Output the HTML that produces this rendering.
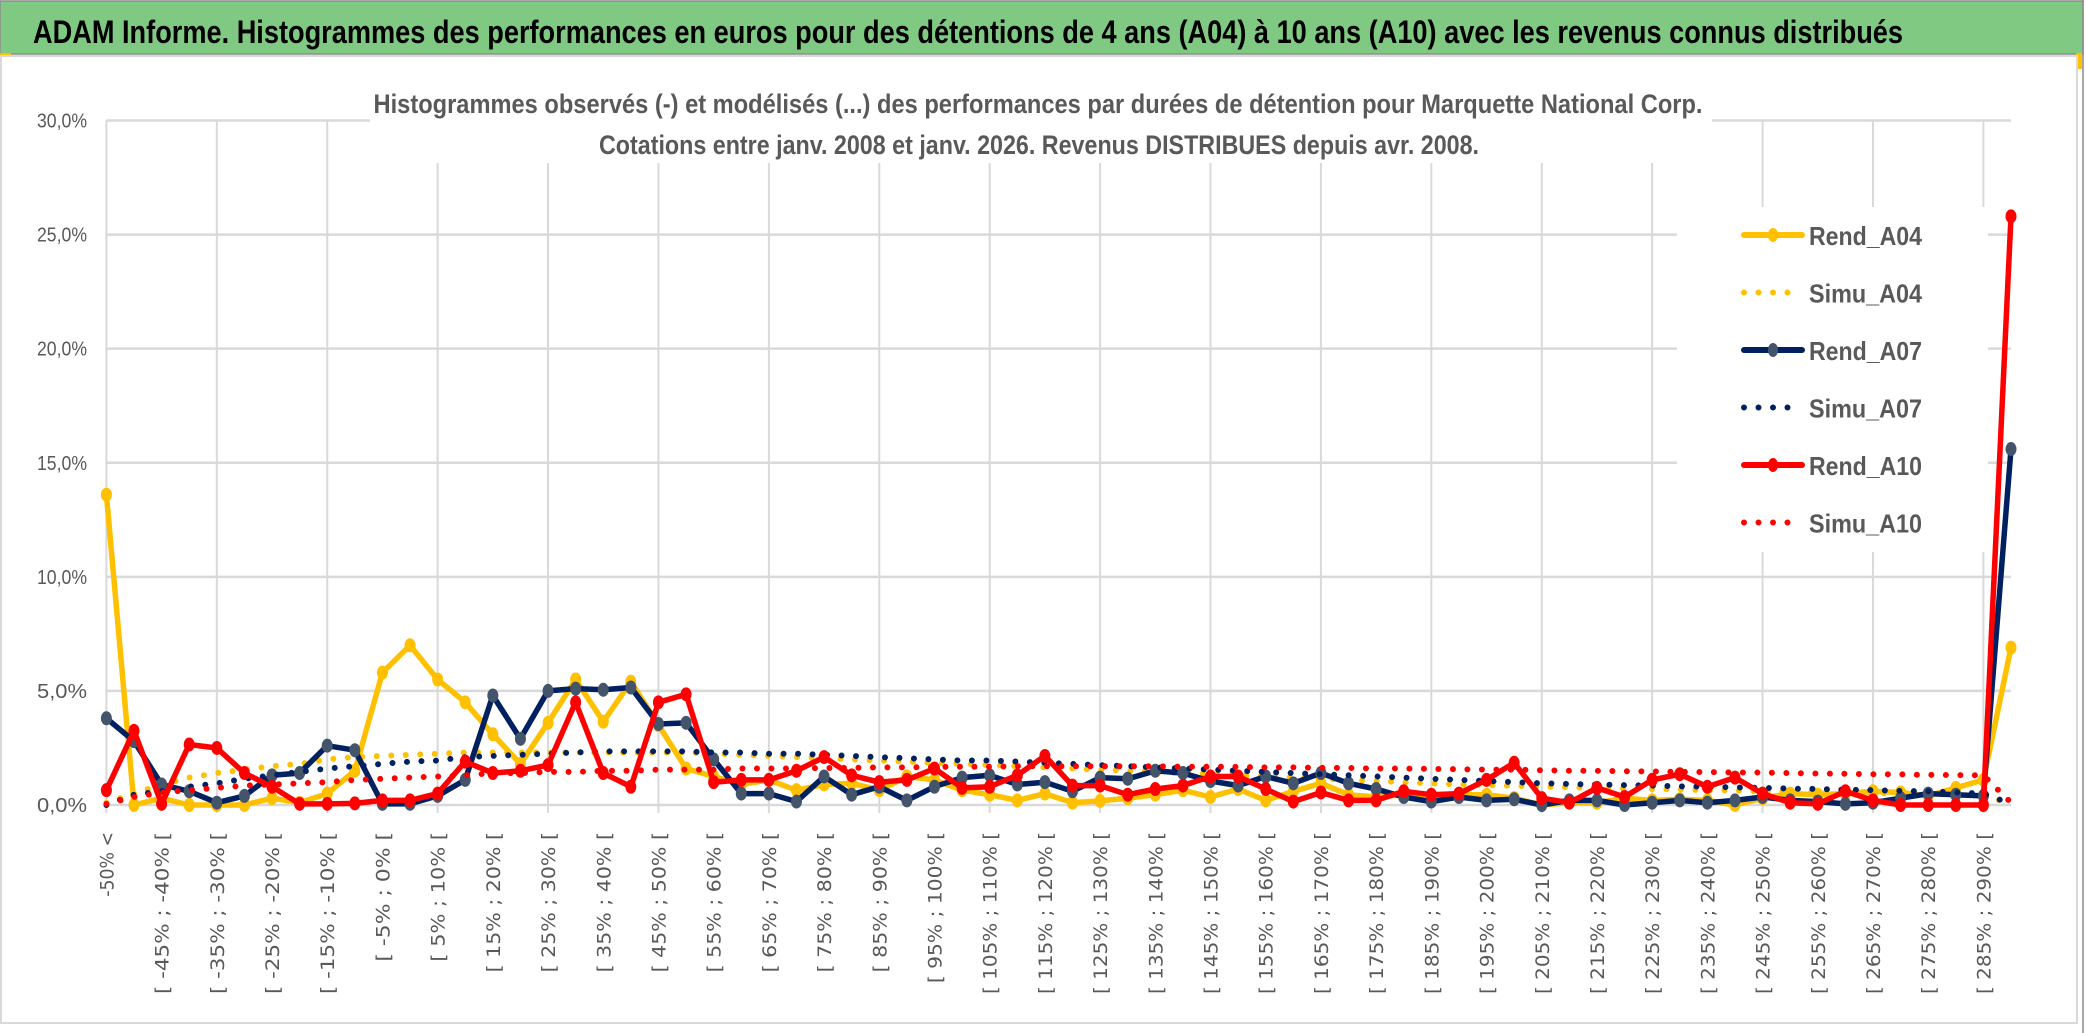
<!DOCTYPE html>
<html><head><meta charset="utf-8"><style>
html,body{margin:0;padding:0;background:#fff;}
svg{display:block;font-family:"Liberation Sans",sans-serif;}
</style></head><body>
<svg id="chart" width="2086" height="1033" viewBox="0 0 2086 1033" xmlns="http://www.w3.org/2000/svg">
<rect x="0" y="0" width="2086" height="1033" fill="#fff"/>
<rect x="0" y="1" width="2083" height="53" fill="#80C982" stroke="#8c8c8c" stroke-width="1.5"/>
<text x="33" y="43" font-size="32" font-weight="bold" fill="#000" textLength="1870" lengthAdjust="spacingAndGlyphs">ADAM Informe. Histogrammes des performances en euros pour des détentions de 4 ans (A04) à 10 ans (A10) avec les revenus connus distribués</text>
<rect x="0" y="53" width="11" height="3" fill="#FFC000"/>
<rect x="2076" y="53" width="6" height="16" fill="#FFC000"/>
<rect x="1" y="56" width="2076" height="967" fill="none" stroke="#d9d9d9" stroke-width="2"/>
<line x1="2083" y1="0" x2="2083" y2="1033" stroke="#8c8c8c" stroke-width="1.5"/>
<g id="grid"></g>
<rect x="370" y="95" width="1342" height="68" fill="#fff"/>
<text x="1038" y="113" font-size="27" font-weight="bold" fill="#595959" text-anchor="middle" textLength="1329" lengthAdjust="spacingAndGlyphs">Histogrammes observés (-) et modélisés (...) des performances par durées de détention pour Marquette National Corp.</text>
<text x="1039" y="154" font-size="27" font-weight="bold" fill="#595959" text-anchor="middle" textLength="880" lengthAdjust="spacingAndGlyphs">Cotations entre janv. 2008 et janv. 2026. Revenus DISTRIBUES depuis avr. 2008.</text>
<g id="yticks"></g>
<g id="xticks"></g>
<g id="series"></g>
<g id="legend"></g>
</svg>
<script>
const categoryCount = 70;
const yTicks = [0, 5, 10, 15, 20, 25, 30];
const yTickLabels = ["0,0%", "5,0%", "10,0%", "15,0%", "20,0%", "25,0%", "30,0%"];
const rendA04 = [13.6,0,0.3,0,0,0,0.3,0.1,0.5,1.5,5.8,7.0,5.5,4.5,3.1,1.8,3.6,5.5,3.65,5.4,3.5,1.6,1.25,0.9,1.1,0.65,0.9,0.95,0.65,1.25,1.1,0.65,0.45,0.2,0.5,0.1,0.18,0.3,0.45,0.65,0.35,0.7,0.2,0.6,0.95,0.45,0.35,0.45,0.35,0.45,0.45,0.3,0,0.1,0.1,0.3,0.2,0.25,0.2,0,0.3,0.5,0.45,0.5,0.6,0.55,0.4,0.75,1.1,6.9];
const simuA04 = [0.1,0.5,0.9,1.2,1.4,1.55,1.7,1.8,2.0,2.1,2.15,2.2,2.25,2.3,2.3,2.3,2.3,2.3,2.3,2.3,2.3,2.3,2.25,2.2,2.15,2.1,2.05,2.0,1.95,1.9,1.85,1.8,1.75,1.7,1.65,1.6,1.55,1.5,1.45,1.4,1.35,1.3,1.25,1.2,1.15,1.1,1.05,1.0,0.95,0.9,0.87,0.84,0.8,0.78,0.75,0.72,0.7,0.68,0.65,0.63,0.6,0.58,0.56,0.54,0.52,0.5,0.48,0.46,0.44,0.05];
const rendA07 = [3.8,2.8,0.9,0.6,0.1,0.4,1.3,1.4,2.6,2.4,0.05,0.05,0.4,1.1,4.8,2.9,5.0,5.1,5.05,5.15,3.55,3.6,2.0,0.5,0.5,0.15,1.25,0.45,0.8,0.2,0.8,1.2,1.3,0.9,1.0,0.6,1.2,1.15,1.5,1.4,1.05,0.85,1.25,0.95,1.4,0.95,0.7,0.35,0.15,0.35,0.2,0.25,0,0.2,0.2,0,0.1,0.2,0.1,0.2,0.35,0.2,0.15,0.05,0.1,0.3,0.5,0.45,0.4,15.6];
const simuA07 = [0,0.45,0.6,0.8,0.95,1.15,1.3,1.45,1.6,1.7,1.8,1.9,1.95,2.1,2.15,2.2,2.25,2.3,2.35,2.35,2.35,2.35,2.3,2.3,2.25,2.25,2.2,2.15,2.1,2.05,2.0,1.95,1.95,1.9,1.85,1.8,1.75,1.7,1.65,1.6,1.55,1.5,1.45,1.4,1.35,1.3,1.25,1.2,1.15,1.1,1.05,1.0,0.95,0.92,0.9,0.87,0.85,0.82,0.8,0.77,0.75,0.72,0.7,0.67,0.65,0.62,0.6,0.55,0.5,0.05];
const rendA10 = [0.65,3.25,0.05,2.65,2.5,1.4,0.8,0.05,0.05,0.07,0.2,0.2,0.5,1.9,1.4,1.5,1.75,4.5,1.4,0.8,4.5,4.85,1.0,1.1,1.1,1.5,2.1,1.3,1.0,1.1,1.6,0.75,0.8,1.3,2.15,0.85,0.85,0.45,0.7,0.85,1.25,1.25,0.7,0.15,0.55,0.2,0.2,0.6,0.45,0.5,1.1,1.85,0.3,0.1,0.75,0.35,1.1,1.35,0.8,1.2,0.5,0.1,0.05,0.6,0.2,0,0,0,0,25.8];
const simuA10 = [0.05,0.35,0.55,0.65,0.75,0.85,0.9,0.95,1.0,1.1,1.15,1.2,1.25,1.3,1.4,1.4,1.45,1.45,1.5,1.5,1.55,1.55,1.55,1.6,1.6,1.6,1.62,1.63,1.65,1.65,1.67,1.68,1.68,1.7,1.7,1.7,1.7,1.7,1.7,1.68,1.68,1.67,1.65,1.65,1.63,1.62,1.6,1.6,1.58,1.57,1.55,1.55,1.52,1.5,1.5,1.48,1.47,1.45,1.44,1.43,1.42,1.4,1.38,1.37,1.35,1.34,1.32,1.31,1.3,0.1];
const legendNames = ["Rend_A04","Simu_A04","Rend_A07","Simu_A07","Rend_A10","Simu_A10"];

function categoryLabel(i){
  if(i===0) return "-50% <";
  if(i===categoryCount-1) return "> 290%";
  const a=-50+5*(i-1);
  return "[ "+a+"% ; "+(a+5)+"% [";
}
const X0=106.4, X1=2011, Y0=805, Y30=120.5;
function xScale(i){return X0+(X1-X0)*i/(categoryCount-1);}
function yScale(v){return Y0-(Y0-Y30)*v/30;}
const NS="http://www.w3.org/2000/svg";
function mk(tag,attrs,parent){const e=document.createElementNS(NS,tag);for(const k in attrs)e.setAttribute(k,attrs[k]);parent.appendChild(e);return e;}

const grid=document.getElementById('grid');
yTicks.forEach(function(t){
  const y=yScale(t);
  const l=mk('line',{x1:X0,y1:y,x2:X1,y2:y,stroke:'#d9d9d9','stroke-width':2.5},grid);
  
  
});
for(let i=0;i<categoryCount;i+=4){
  const x=xScale(i);
  const l=mk('line',{x1:x,y1:Y30,x2:x,y2:Y0+8,stroke:'#d9d9d9','stroke-width':2},grid);
  
  
}

const yt=document.getElementById('yticks');
yTicks.forEach(function(t,k){
  const tx=mk('text',{x:87,y:yScale(t)+7,'font-size':20,fill:'#595959','text-anchor':'end',textLength:50,lengthAdjust:'spacingAndGlyphs'},yt);
  tx.textContent=yTickLabels[k];
  
  
});

const xt=document.getElementById('xticks');
for(let i=0;i<categoryCount;i+=2){
  const lab=categoryLabel(i);
  const x=xScale(i);
  const tx=mk('text',{x:0,y:0,'font-size':19,fill:'#595959','font-family':'"DejaVu Sans",sans-serif','text-anchor':'end',textLength:(lab.length*10.8).toFixed(1),lengthAdjust:'spacingAndGlyphs',transform:'translate('+(x+7)+',832) rotate(-90)'},xt);
  tx.textContent=lab;
  
  
}

const sg=document.getElementById('series');
function pathFor(arr){return arr.map(function(v,i){return (i?'L':'M')+xScale(i).toFixed(1)+','+yScale(v).toFixed(1);}).join(' ');}
function solid(arr,color,marker,name){
  const g=mk('g',{},sg);
  
  
  const p=mk('path',{d:pathFor(arr),fill:'none',stroke:color,'stroke-width':5.5,'stroke-linejoin':'round'},g);
  
  
  arr.forEach(function(v,i){
    const c=mk('ellipse',{cx:xScale(i),cy:yScale(v),rx:5.5,ry:7,fill:marker},g);
    
    
  });
}
function dotted(arr,color,name){
  const p=mk('path',{d:pathFor(arr),fill:'none',stroke:color,'stroke-width':6,'stroke-linecap':'round','stroke-dasharray':'0 14.5'},sg);
  
  
}
solid(rendA04,'#FFC000','#FFC000','rend-a04');
dotted(simuA04,'#FFC000','simu-a04');
solid(rendA07,'#002060','#44546A','rend-a07');
dotted(simuA07,'#002060','simu-a07');
solid(rendA10,'#FF0000','#FF0000','rend-a10');
dotted(simuA10,'#FF0000','simu-a10');

const lg=document.getElementById('legend');
const bg=mk('rect',{x:1677,y:207,width:311,height:345,fill:'#fff'},lg);


const colors=['#FFC000','#FFC000','#002060','#002060','#FF0000','#FF0000'];
const markers=['#FFC000',null,'#44546A',null,'#FF0000',null];
legendNames.forEach(function(n,k){
  const y=235+57.5*k;
  const g=mk('g',{},lg);
  
  
  if(markers[k]){
    mk('line',{x1:1744,y1:y,x2:1802,y2:y,stroke:colors[k],'stroke-width':6,'stroke-linecap':'round'},g);
    mk('ellipse',{cx:1773,cy:y,rx:5,ry:7,fill:markers[k]},g);
  } else {
    mk('line',{x1:1744,y1:y,x2:1802,y2:y,stroke:colors[k],'stroke-width':6,'stroke-linecap':'round','stroke-dasharray':'0 14.5'},g);
  }
  const t=mk('text',{x:1809,y:y+10,'font-size':26,'font-weight':'bold',fill:'#595959',textLength:113,lengthAdjust:'spacingAndGlyphs'},g);
  t.textContent=n;
});
</script>
</body></html>
